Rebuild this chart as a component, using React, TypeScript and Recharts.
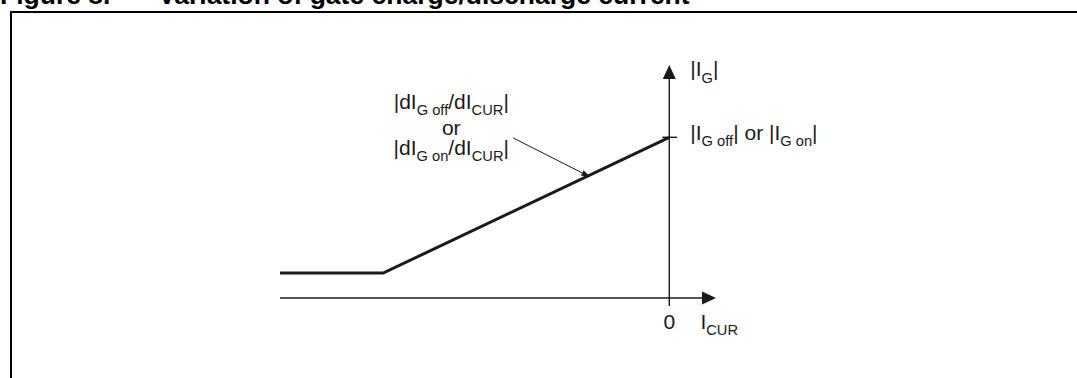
import { ComposedChart, Line, XAxis, YAxis, ReferenceLine, ReferenceDot } from "recharts";

// |I_G| versus I_CUR: flat at the minimum, then rising linearly to the value at zero current
const currentPoints = [-10, -7.35, 0];
const gatePoints = [1.55, 1.55, 10];

const axisTickLabels = ["0"];
const pointerFrom = { x: -4.01, y: 9.96 };
const pointerTo = { x: -2.03, y: 7.53 };

const curve = currentPoints.map((x, i) => ({ x, y: gatePoints[i] }));

const FONT = "'Liberation Sans', Arial, Helvetica, sans-serif";
const INK = "#1a1a1a";

type Seg = { t: string; sub?: boolean };

function RichText({ x, y, segs, anchor = "start", size = 21 }: { x: number; y: number; segs: Seg[]; anchor?: "start" | "middle" | "end"; size?: number }) {
  const subSize = size * 0.7;
  const shift = size * 0.3;
  let down = false;
  return (
    <text x={x} y={y} textAnchor={anchor} fontSize={size} fontFamily={FONT} fill={INK} style={{ whiteSpace: "pre" }}>
      {segs.map((s, i) => {
        let dy = 0;
        if (s.sub && !down) { dy = shift; down = true; }
        else if (!s.sub && down) { dy = -shift; down = false; }
        return (
          <tspan key={i} dy={dy} fontSize={s.sub ? subSize : size}>{s.t}</tspan>
        );
      })}
    </text>
  );
}

// line with a filled arrowhead at its second end
function ArrowLine({ x1, y1, x2, y2, width = 1.4, head = 14, half = 6.5 }: any) {
  const ang = Math.atan2(y2 - y1, x2 - x1);
  const bx = x2 - head * Math.cos(ang);
  const by = y2 - head * Math.sin(ang);
  const px = -Math.sin(ang) * half;
  const py = Math.cos(ang) * half;
  return (
    <g>
      <line x1={x1} y1={y1} x2={bx} y2={by} stroke={INK} strokeWidth={width} />
      <polygon points={`${x2},${y2} ${bx + px},${by + py} ${bx - px},${by - py}`} fill={INK} />
    </g>
  );
}

function PlainLine({ x1, y1, x2, y2 }: any) {
  return <line x1={x1} y1={y1} x2={x2} y2={y2} stroke={INK} strokeWidth={1.4} />;
}

const labelAt = (segs: Seg[], anchor: "start" | "middle" | "end" = "start", size = 21) =>
  (p: any) => <RichText x={p.cx} y={p.cy} segs={segs} anchor={anchor} size={size} />;

const titleStyle = {
  position: "absolute" as const,
  top: -18.5,
  fontFamily: FONT,
  fontWeight: 700,
  fontSize: 26.5,
  lineHeight: "26px",
  color: "#000",
  whiteSpace: "pre" as const,
};

export default function App() {
  const top = gatePoints[gatePoints.length - 1];
  return (
    <div style={{ position: "absolute", left: 0, top: 0, width: 1077, height: 378, overflow: "hidden", background: "#fff" }}>
      <div style={{ ...titleStyle, left: 0 }}>Figure 8.</div>
      <div style={{ ...titleStyle, left: 158 }}>Variation of gate charge/discharge current</div>
      <div style={{ position: "absolute", left: 10, top: 11, width: 1200, height: 500, borderTop: "2px solid #000", borderLeft: "2px solid #000" }} />

      <div style={{ position: "absolute", left: 0, top: 0 }}>
        <ComposedChart width={1077} height={378} data={curve} margin={{ top: 65, right: 361, bottom: 72, left: 280 }}>
          <XAxis type="number" dataKey="x" domain={[-10, 1.2]} hide allowDataOverflow />
          <YAxis type="number" domain={[-0.5, 14.5]} hide allowDataOverflow />

          {/* axes */}
          <ReferenceLine segment={[{ x: -10, y: 0 }, { x: 1.2, y: 0 }]} stroke={INK} ifOverflow="visible" shape={(p: any) => <ArrowLine {...p} />} />
          <ReferenceLine segment={[{ x: 0, y: -0.5 }, { x: 0, y: 14.5 }]} stroke={INK} ifOverflow="visible" shape={(p: any) => <ArrowLine {...p} />} />
          <ReferenceLine segment={[{ x: -0.18, y: top }, { x: 0.2, y: top }]} stroke={INK} ifOverflow="visible" shape={(p: any) => <PlainLine {...p} />} />

          <Line type="linear" dataKey="y" stroke={INK} strokeWidth={3} dot={false} isAnimationActive={false} />

          {/* pointer to the slope */}
          <ReferenceLine segment={[pointerFrom, pointerTo]} stroke={INK} ifOverflow="visible" shape={(p: any) => <ArrowLine {...p} width={1} head={9} half={3} />} />

          <ReferenceDot x={0} y={-1.93} r={0} ifOverflow="visible" shape={labelAt([{ t: axisTickLabels[0] }], "middle")} />
          <ReferenceDot x={0.8} y={-1.93} r={0} ifOverflow="visible" shape={labelAt([{ t: "I" }, { t: "CUR", sub: true }])} />
          <ReferenceDot x={0.54} y={13.8} r={0} ifOverflow="visible" shape={labelAt([{ t: "|I" }, { t: "G", sub: true }, { t: "|" }])} />
          <ReferenceDot x={0.54} y={9.83} r={0} ifOverflow="visible" shape={labelAt([{ t: "|I" }, { t: "G off", sub: true }, { t: "| or |I" }, { t: "G on", sub: true }, { t: "|" }])} />
          <ReferenceDot x={-5.6} y={11.76} r={0} ifOverflow="visible" shape={labelAt([{ t: "|dI" }, { t: "G off", sub: true }, { t: "/dI" }, { t: "CUR", sub: true }, { t: "|" }], "middle")} />
          <ReferenceDot x={-5.6} y={10.14} r={0} ifOverflow="visible" shape={labelAt([{ t: "or" }], "middle")} />
          <ReferenceDot x={-5.6} y={8.9} r={0} ifOverflow="visible" shape={labelAt([{ t: "|dI" }, { t: "G on", sub: true }, { t: "/dI" }, { t: "CUR", sub: true }, { t: "|" }], "middle")} />
        </ComposedChart>
      </div>
    </div>
  );
}
